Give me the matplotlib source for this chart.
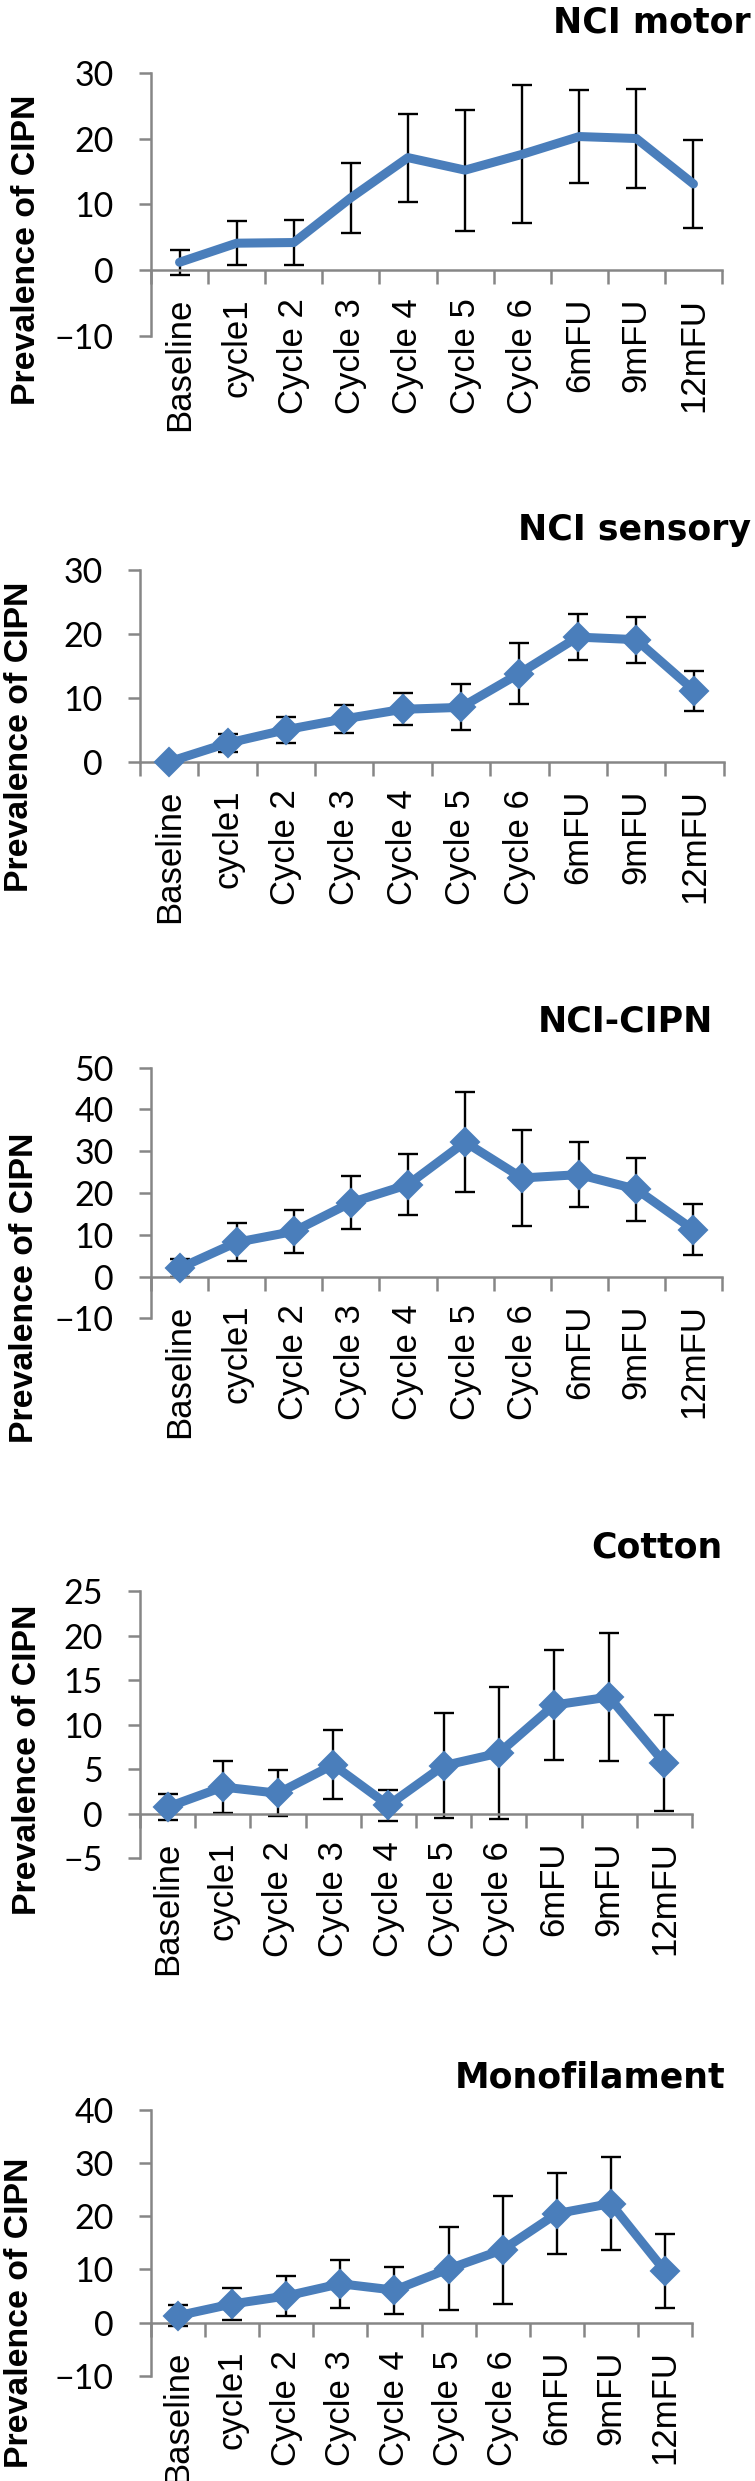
import numpy as np
import matplotlib
matplotlib.use("Agg")
import matplotlib.pyplot as plt
from matplotlib.ticker import FixedLocator

categories = ["Baseline", "cycle1", "Cycle 2", "Cycle 3", "Cycle 4",
              "Cycle 5", "Cycle 6", "6mFU", "9mFU", "12mFU"]
titles = ["NCI motor", "NCI sensory", "NCI-CIPN", "Cotton", "Monofilament"]

# prevalence of CIPN and error bar half-widths, one pair per panel
motor = [1.2, 4.1, 4.2, 11.0, 17.1, 15.2, 17.6, 20.3, 20.0, 13.1]
motor_err = [1.9, 3.3, 3.4, 5.3, 6.7, 9.2, 10.5, 7.1, 7.5, 6.7]
sensory = [0.0, 2.9, 5.0, 6.7, 8.2, 8.5, 13.8, 19.5, 19.1, 11.1]
sensory_err = [0.0, 1.4, 2.0, 2.2, 2.5, 3.6, 4.8, 3.6, 3.6, 3.1]
nci_cipn = [2.0, 8.2, 10.8, 17.7, 22.0, 32.2, 23.6, 24.4, 20.9, 11.2]
nci_cipn_err = [2.1, 4.5, 5.2, 6.4, 7.3, 12.0, 11.6, 7.7, 7.5, 6.1]
cotton = [0.75, 3.0, 2.3, 5.5, 0.95, 5.4, 6.8, 12.2, 13.1, 5.7]
cotton_err = [1.45, 2.9, 2.6, 3.9, 1.75, 5.9, 7.4, 6.2, 7.2, 5.4]
mono = [1.3, 3.5, 5.0, 7.3, 6.1, 10.1, 13.7, 20.5, 22.4, 9.7]
mono_err = [2.0, 3.0, 3.7, 4.5, 4.4, 7.8, 10.2, 7.6, 8.7, 6.9]

series = [motor, sensory, nci_cipn, cotton, mono]
errors = [motor_err, sensory_err, nci_cipn_err, cotton_err, mono_err]
y_ranges = [(-10, 30, 10), (0, 30, 10), (-10, 50, 10), (-5, 25, 5), (-10, 40, 10)]
markers = [None, "D", "D", "D", "D"]

# layout in pixels of the 755x2481 picture
W, H = 755, 2481
boxes = [(151, 722, 72.7, 336), (140, 723.6, 570, 761.7), (151, 722, 1067.7, 1318.3),
         (140, 692, 1591, 1858.3), (151, 692, 2110, 2375.7)]
title_pos = [(751, 32), (751, 540), (713, 1032), (722, 1557), (725, 2087)]
ylabel_pos = [(27, 250), (20, 737), (25, 1288), (28, 1760), (20, 2313)]

BLUE = "#4A7EBB"
GRAY = "#868686"

fig = plt.figure(figsize=(W / 100, H / 100), dpi=100)
x = np.arange(len(categories))

for i in range(5):
    l, r, t, b = boxes[i]
    ax = fig.add_axes([l / W, 1 - b / H, (r - l) / W, (b - t) / H])

    ax.errorbar(x, series[i], yerr=errors[i], fmt="none", ecolor="black",
                elinewidth=1.7, capsize=7, capthick=1.7, zorder=2, clip_on=False)
    ax.plot(x, series[i], color=BLUE, lw=6.5, marker=markers[i], ms=14,
            mfc=BLUE, mec=BLUE, mew=1.5, solid_joinstyle="round",
            solid_capstyle="round", zorder=3, clip_on=False)

    lo, hi, step = y_ranges[i]
    ax.set_xlim(-0.5, len(categories) - 0.5)
    ax.set_ylim(lo, hi)
    ax.set_yticks(np.arange(lo, hi + step / 2, step))

    ax.spines["top"].set_visible(False)
    ax.spines["right"].set_visible(False)
    ax.spines["bottom"].set_position(("data", 0))
    for s in ["left", "bottom"]:
        ax.spines[s].set_color(GRAY)
        ax.spines[s].set_linewidth(1.8)

    ax.set_xticks(x)
    ax.set_xticklabels(categories, rotation=90, fontsize=25, family="Liberation Sans")
    ax.xaxis.set_minor_locator(FixedLocator(np.arange(-0.5, len(categories), 1.0)))
    ax.tick_params(axis="x", which="major", length=0, pad=20)
    ax.tick_params(axis="x", which="minor", length=10, width=1.8, color=GRAY, direction="out")
    ax.tick_params(axis="y", length=9, width=1.8, color=GRAY, pad=18, labelsize=24.5)
    for lab in ax.get_yticklabels():
        lab.set_family("Lato")

    ax.set_ylabel("Prevalence of CIPN", family="Liberation Sans", fontweight="bold",
                  fontsize=24.4, va="center")
    lx, ly = ylabel_pos[i]
    ax.yaxis.set_label_coords((lx - l) / (r - l), (b - ly) / (b - t))

    tx, ty = title_pos[i]
    ax.set_title(titles[i], loc="right", x=(tx - l) / (r - l), y=(b - ty) / (b - t),
                 pad=0, va="baseline", family="DejaVu Sans", fontweight="bold", fontsize=25)

fig.savefig("out.png", dpi=100, facecolor="white")
